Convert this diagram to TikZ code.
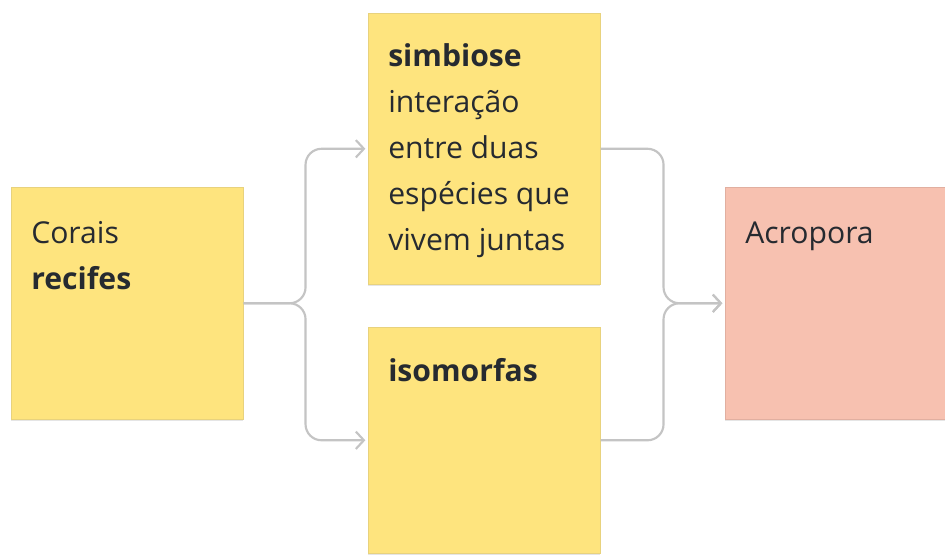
\documentclass[tikz,border=0pt]{standalone}
\usepackage{fontspec}
\setmainfont{Open Sans}
\usetikzlibrary{arrows.meta,shadows,calc}
\definecolor{noteyellow}{RGB}{254,228,126}
\definecolor{noteyellowedge}{RGB}{232,210,125}
\definecolor{notepink}{RGB}{247,193,176}
\definecolor{notepinkedge}{RGB}{225,175,160}
\definecolor{conngray}{RGB}{196,196,196}
\definecolor{txt}{RGB}{38,42,48}
\tikzset{
  note/.style={rectangle, draw=noteyellowedge, line width=0.4pt, fill=noteyellow, inner sep=0pt,
    minimum width=174pt, drop shadow={shadow xshift=0pt, shadow yshift=-1.5pt, opacity=0.10, fill=black}},
  pinknote/.style={note, draw=notepinkedge, fill=notepink},
  ntext/.style={anchor=base west, inner sep=0pt, text=txt, font=\fontsize{22.6}{26}\selectfont},
  btext/.style={ntext, font=\fontsize{22.6}{26}\selectfont\bfseries},
  conn/.style={draw=conngray, line width=1.6pt, rounded corners=12pt},
  arr/.style={conn, -{Straight Barb[length=6pt,width=13pt,line width=1.6pt]}, shorten >=2pt}
}
\begin{document}
\begin{tikzpicture}[x=0.75pt,y=-0.75pt]
\useasboundingbox (0,0) rectangle (945,554);
\clip (0,0) rectangle (945,554);
\fill[white] (0,0) rectangle (945,554);
% notes
\node[note, minimum height=174pt, anchor=north west] (L) at (11,187) {};
\node[note, minimum height=203.25pt, anchor=north west] (T) at (368,13) {};
\node[note, minimum height=169.5pt, anchor=north west] (B) at (368,327) {};
\node[pinknote, minimum height=174pt, anchor=north west] (R) at (725,187) {};
% texts
\node[ntext] (l1) at ($(L.north west)+(20,56)$) {Corais};
\node[btext] (l2) at ($(l1.base west)+(0,46)$) {recifes};
\node[btext] (t1) at ($(T.north west)+(20,53)$) {simbiose};
\node[ntext] (t2) at ($(t1.base west)+(0,46)$) {interação};
\node[ntext] (t3) at ($(t2.base west)+(0,46)$) {entre duas};
\node[ntext] (t4) at ($(t3.base west)+(0,46)$) {espécies que};
\node[ntext] (t5) at ($(t4.base west)+(0,46)$) {vivem juntas};
\node[btext] (b1) at ($(B.north west)+(20,54)$) {isomorfas};
\node[ntext] (r1) at ($(R.north west)+(20,56)$) {Acropora};
% connectors
\draw[arr] (L.east) -- ++(62,0) |- (T.west);
\draw[arr] (L.east) -- ++(62,0) |- (B.west);
\draw[arr] (T.east) -- ++(63,0) |- (R.west);
\draw[arr] (B.east) -- ++(63,0) |- (R.west);
\end{tikzpicture}
\end{document}
